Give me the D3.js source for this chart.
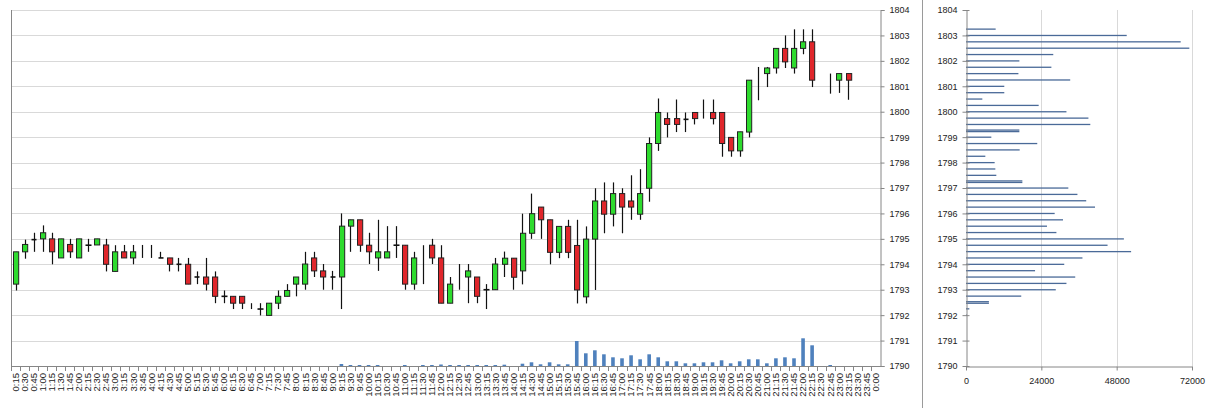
<!DOCTYPE html>
<html><head><meta charset="utf-8">
<script src="https://cdn.jsdelivr.net/npm/d3@7/dist/d3.min.js"></script>
<style>
html,body{margin:0;padding:0;background:#fff}
svg{display:block;font-family:"Liberation Sans",Arial,sans-serif}
</style>
</head><body>
<svg id="chart" width="1211" height="408"></svg>
<script>
// ---------- data ----------
const times = ["0:15","0:30","0:45","1:00","1:15","1:30","1:45","2:00","2:15","2:30","2:45","3:00","3:15","3:30","3:45","4:00",
"4:15","4:30","4:45","5:00","5:15","5:30","5:45","6:00","6:15","6:30","6:45","7:00","7:15","7:30","7:45","8:00",
"8:15","8:30","8:45","9:00","9:15","9:30","9:45","10:00","10:15","10:30","10:45","11:00","11:15","11:30","11:45","12:00",
"12:15","12:30","12:45","13:00","13:15","13:30","13:45","14:00","14:15","14:30","14:45","15:00","15:15","15:30","15:45","16:00",
"16:15","16:30","16:45","17:00","17:15","17:30","17:45","18:00","18:15","18:30","18:45","19:00","19:15","19:30","19:45","20:00",
"20:15","20:30","20:45","21:00","21:15","21:30","21:45","22:00","22:15","22:30","22:45","23:00","23:15","23:30","23:45","0:00"];

const openP = [1793.22,1794.49,1794.97,1795.0,1795.0,1794.25,1794.78,1794.25,1794.75,1794.76,1794.76,1793.72,1794.49,1794.25,null,null,
1794.25,1794.25,1794.0,1794.0,1793.5,1793.5,1793.5,1792.74,1792.74,1792.74,null,1792.24,1791.99,1792.47,1792.74,1793.22,
1793.22,1794.25,1793.74,1793.5,1793.5,1795.5,1795.75,1794.75,1794.25,1794.25,1794.75,1794.75,1793.22,null,1794.75,1794.25,
1792.47,null,1793.5,1793.5,1793.0,1793.0,1794.0,1794.24,1793.74,1795.22,1796.25,1795.75,1794.47,1795.49,1794.74,1792.72,
1794.99,1796.49,1795.97,1796.78,1796.49,1795.97,1796.99,1798.75,1799.73,1799.73,1799.7,1799.97,null,1799.97,1799.97,1798.99,
1798.46,1799.2,null,1801.5,1801.72,1802.49,1801.72,1802.49,1802.75,null,null,1801.24,1801.5,null,null,null];

const highP = [1794.49,1794.97,1795.24,1795.53,1795.24,1795.0,1795.0,1795.0,1795.0,1795.0,1795.0,1794.75,1794.76,1794.76,1794.76,1794.76,
1794.49,1794.25,1794.25,1794.25,1793.72,1794.25,1793.72,1792.97,1792.74,1792.74,1792.47,1792.47,1792.47,1792.97,1793.22,1793.5,
1794.49,1794.49,1794.01,1793.74,1796.0,1795.75,1795.75,1795.24,1795.75,1795.5,1795.5,1794.75,1794.49,1794.75,1795.0,1794.75,
1793.5,1794.01,1794.01,1793.5,1793.22,1794.25,1794.5,1794.24,1795.99,1796.78,1796.25,1795.75,1795.49,1795.75,1795.75,1795.49,
1796.99,1797.22,1797.22,1796.99,1797.5,1797.74,1798.99,1800.52,1799.97,1800.48,1799.97,1799.97,1800.48,1800.48,1799.97,1798.99,
1799.21,1801.24,1801.76,1801.76,1802.49,1803.0,1803.24,1803.24,1803.24,null,1801.5,1801.5,1801.5,null,null,null];

const lowP = [1792.97,1794.22,1794.49,1794.49,1794.0,1794.25,1794.25,1794.25,1794.49,1794.76,1793.72,1793.72,1794.25,1794.0,1794.25,1794.25,
1794.25,1793.72,1793.72,1793.22,1793.22,1792.97,1792.47,1792.47,1792.24,1792.24,1792.24,1791.99,1791.99,1792.24,1792.74,1792.74,
1793.0,1793.5,1793.0,1793.0,1792.24,1794.49,1794.49,1794.01,1793.74,1794.25,1794.25,1793.0,1793.0,1793.22,1794.01,1792.47,
1792.47,1793.0,1792.47,1792.47,1792.24,1793.0,1793.5,1793.0,1793.21,1795.0,1795.0,1794.0,1794.24,1794.24,1792.46,1792.46,
1792.99,1795.22,1795.49,1795.22,1795.75,1795.75,1796.46,1798.46,1798.99,1799.2,1799.2,1799.5,1799.73,1799.5,1798.23,1798.23,
1798.23,1798.99,1800.45,1800.97,1801.5,1801.72,1801.5,1802.26,1800.97,null,1800.71,1800.74,1800.47,null,null,null];

const closeP = [1794.49,1794.78,1794.97,1795.24,1794.49,1795.0,1794.49,1795.0,1794.75,1795.0,1794.0,1794.49,1794.25,1794.49,null,null,
1794.25,1794.0,1794.0,1793.22,1793.5,1793.22,1792.74,1792.74,1792.47,1792.47,null,1792.24,1792.47,1792.74,1792.97,1793.5,
1794.01,1793.74,1793.5,1793.5,1795.5,1795.75,1794.75,1794.49,1794.49,1794.49,1794.75,1793.22,1794.25,null,1794.25,1792.47,
1793.22,null,1793.74,1792.74,1793.0,1794.01,1794.24,1793.49,1795.22,1795.99,1795.75,1794.47,1795.49,1794.47,1792.99,1794.99,
1796.49,1795.97,1796.78,1796.25,1796.25,1796.78,1798.75,1799.97,1799.5,1799.5,1799.7,1799.73,null,1799.73,1798.75,1798.46,
1799.21,1801.24,null,1801.72,1802.49,1801.96,1802.49,1802.75,1801.24,null,null,1801.5,1801.24,null,null,null];

const volume = [0,0,0,0,0,0,0,0,0,0,0,0,0,0,0,0,
0,0,0,0,0,0,0,0,0,0,0,0,0,0,0,0,
0,0,0,0,200,100,100,100,100,0,0,100,0,100,100,150,
100,100,100,100,100,100,130,0,230,370,170,370,170,170,2500,1270,
1570,1170,870,770,1070,670,1170,870,470,470,270,270,370,370,570,270,
470,670,670,270,770,870,770,2770,2070,0,100,0,0,0,0,0];

const priceTicks = [1790,1791,1792,1793,1794,1795,1796,1797,1798,1799,1800,1801,1802,1803,1804];

const profileLevels = [1803.25,1803.0,1802.75,1802.5,1802.25,1802.0,1801.75,1801.5,1801.25,1801.0,1800.75,1800.5,1800.25,1800.0,
1799.75,1799.5,1799.28,1799.22,1799.0,1798.75,1798.5,1798.25,1798.0,1797.75,1797.5,1797.28,1797.22,1797.0,1796.75,1796.5,1796.25,
1796.0,1795.75,1795.5,1795.25,1795.0,1794.75,1794.5,1794.25,1794.0,1793.75,1793.5,1793.25,1793.0,1792.75,1792.53,1792.47,1792.25,1792.0];
const profileVolume = [9450,51200,68400,71150,27800,17000,27200,16700,33200,12200,12200,5200,23150,32000,
39000,39600,17000,17000,8070,22700,17100,6160,9130,9350,9660,17950,17950,32600,35500,38300,41100,
28250,30900,25800,28800,50300,45100,52600,37100,31300,22000,34800,32000,28600,17600,7300,7300,1060,300];
const profileTicks = [0,24000,48000,72000];

// ---------- layout ----------
const svg = d3.select("#chart");
const M = {left:11, right:880, top:10, bottom:366};
const P = {left:966, right:1192};
const FS = "9px";

const x = d3.scaleBand().domain(times).range([M.left, M.right]).padding(0);
const y = d3.scaleLinear().domain([1790,1804]).range([M.bottom, M.top]);
const yVol = d3.scaleLinear().domain([0,35600]).range([M.bottom, M.top]);
const xP = d3.scaleLinear().domain([0,72000]).range([P.left, P.right]);

const gridC = "#d9d9d9", axisC = "#868686", txtC = "#222";
const upC = "#2edb2e", downC = "#e0262b", volC = "#4f81bd", profC = "#4a6a98";

// main gridlines
svg.append("g").selectAll("line").data(priceTicks).join("line")
  .attr("x1", M.left).attr("x2", M.right)
  .attr("y1", d => Math.round(y(d)) + 0.5).attr("y2", d => Math.round(y(d)) + 0.5)
  .attr("stroke", gridC);

// left frame line
svg.append("line").attr("x1", M.left + 0.5).attr("x2", M.left + 0.5)
  .attr("y1", M.top).attr("y2", M.bottom + 1).attr("stroke", axisC);

// volume bars
const vbw = 3.6;
svg.append("g").selectAll("rect").data(times.map((t,i)=>({t, v: volume[i]})).filter(d=>d.v>0)).join("rect")
  .attr("x", d => x(d.t) + x.bandwidth()/2 - vbw/2)
  .attr("width", vbw)
  .attr("y", d => yVol(d.v))
  .attr("height", d => yVol(0) - yVol(d.v))
  .attr("fill", volC);

// candles
const candles = times.map((t,i)=>({t, o:openP[i], h:highP[i], l:lowP[i], c:closeP[i]})).filter(d=>d.h!=null);
const cg = svg.append("g");
const bw = 5.6;
cg.selectAll("line.wick").data(candles).join("line").attr("class","wick")
  .attr("x1", d => Math.round(x(d.t) + x.bandwidth()/2) + 0.5)
  .attr("x2", d => Math.round(x(d.t) + x.bandwidth()/2) + 0.5)
  .attr("y1", d => y(d.h)).attr("y2", d => y(d.l))
  .attr("stroke", "#111").attr("stroke-width", 1.2);
const bodies = candles.filter(d => d.o != null);
cg.selectAll("rect.body").data(bodies.filter(d => Math.abs(d.o - d.c) > 0.001)).join("rect").attr("class","body")
  .attr("x", d => Math.round(x(d.t) + x.bandwidth()/2 - bw/2) + 0.5)
  .attr("width", bw - 0.4)
  .attr("y", d => y(Math.max(d.o,d.c)))
  .attr("height", d => Math.abs(y(d.o) - y(d.c)))
  .attr("fill", d => d.c > d.o ? upC : downC)
  .attr("stroke", "#222").attr("stroke-width", 1);
cg.selectAll("line.doji").data(bodies.filter(d => Math.abs(d.o - d.c) <= 0.001)).join("line").attr("class","doji")
  .attr("x1", d => Math.round(x(d.t) + x.bandwidth()/2 - bw/2) + 0.5)
  .attr("x2", d => Math.round(x(d.t) + x.bandwidth()/2 + bw/2) + 0.5)
  .attr("y1", d => y(d.o)).attr("y2", d => y(d.o))
  .attr("stroke", "#111").attr("stroke-width", 1.6);

// main right axis
const yAx = svg.append("g").attr("transform", `translate(${M.right + 0.5},0)`)
  .call(d3.axisRight(y).tickValues(priceTicks).tickFormat(d3.format("d")).tickSize(4).tickPadding(5));
yAx.select(".domain").attr("stroke", axisC);
yAx.selectAll(".tick line").attr("stroke", axisC);
yAx.selectAll("text").attr("fill", txtC).style("font-size", FS);

// x axis line + boundary ticks
svg.append("line").attr("x1", M.left).attr("x2", M.right + 1)
  .attr("y1", M.bottom + 0.5).attr("y2", M.bottom + 0.5).attr("stroke", axisC);
svg.append("g").selectAll("line").data(times).join("line")
  .attr("x1", d => Math.round(x(d)) + 0.5).attr("x2", d => Math.round(x(d)) + 0.5)
  .attr("y1", M.bottom).attr("y2", M.bottom + 5).attr("stroke", axisC);
svg.append("g").selectAll("text").data(times).join("text")
  .attr("transform", d => `translate(${x(d) + x.bandwidth()/2},${M.bottom + 7}) rotate(-90)`)
  .attr("text-anchor", "end").attr("dy", "0.35em")
  .attr("fill", txtC).style("font-size", "9.5px")
  .text(d => d);

// separator
svg.append("line").attr("x1", 922.5).attr("x2", 922.5).attr("y1", 0).attr("y2", 408).attr("stroke", "#9a9a9a");

// ---------- profile panel ----------
svg.append("g").selectAll("line").data(profileTicks.slice(1)).join("line")
  .attr("x1", d => Math.round(xP(d)) + 0.5).attr("x2", d => Math.round(xP(d)) + 0.5)
  .attr("y1", M.top).attr("y2", M.bottom).attr("stroke", gridC);

svg.append("g").selectAll("rect").data(profileLevels.map((p,i)=>({p, v: profileVolume[i]}))).join("rect")
  .attr("x", xP(0)).attr("width", d => xP(d.v) - xP(0))
  .attr("y", d => y(d.p) - 0.6).attr("height", 1.3)
  .attr("fill", profC);

const pyAx = svg.append("g").attr("transform", `translate(${P.left + 0.5},0)`)
  .call(d3.axisLeft(y).tickValues(priceTicks).tickFormat(d3.format("d")).tickSizeInner(4).tickSizeOuter(0).tickPadding(5));
pyAx.select(".domain").attr("stroke", axisC);
pyAx.selectAll(".tick line").attr("stroke", axisC).attr("x1", 3);
pyAx.selectAll("text").attr("fill", txtC).style("font-size", FS);

const pxAx = svg.append("g").attr("transform", `translate(0,${M.bottom + 0.5})`)
  .call(d3.axisBottom(xP).tickValues(profileTicks).tickFormat(d3.format("d")).tickSizeInner(4).tickSizeOuter(0).tickPadding(7));
pxAx.select(".domain").attr("stroke", axisC);
pxAx.selectAll(".tick line").attr("stroke", axisC);
pxAx.selectAll("text").attr("fill", txtC).style("font-size", FS);
</script>
</body></html>
